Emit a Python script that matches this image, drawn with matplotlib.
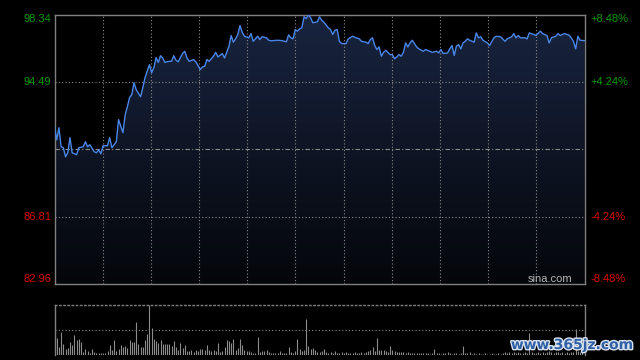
import numpy as np
import matplotlib
matplotlib.use("Agg")
import matplotlib.pyplot as plt
import matplotlib.patheffects as pe
from matplotlib.colors import LinearSegmentedColormap

plt.rcParams['font.family'] = ['Liberation Sans', 'DejaVu Sans']

# price scale (prev close in the middle)
prev_close = 90.65
y_top, y_bottom = 98.34, 82.96
left_vals = [98.34, 94.49, 86.81, 82.96]
left_labels = ['98.34', '94.49', '86.81', '82.96']
right_labels = ['+8.48%', '+4.24%', '-4.24%', '-8.48%']

# intraday price, minute index from the open (0..240)
minute = [0, 1, 2, 3, 4, 5, 6, 7, 8, 10, 11, 13, 14, 15, 16, 18, 19, 20, 21, 22,
          23, 24, 25, 26, 27, 28, 29, 31, 32, 33, 34, 35, 36, 37, 39, 40, 41, 43, 44, 45,
          46, 47, 48, 49, 50, 52, 53, 54, 55, 56, 58, 59, 60, 61, 63, 64, 66, 67, 68, 69,
          70, 72, 73, 74, 76, 77, 79, 80, 81, 82, 83, 84, 85, 86, 88, 89, 90, 92, 93, 94,
          96, 97, 98, 101, 103, 105, 106, 107, 108, 109, 110, 111, 112, 113, 114, 115, 116, 117, 119, 120,
          121, 122, 124, 125, 126, 127, 128, 129, 130, 132, 133, 135, 136, 138, 139, 141, 142, 143, 144, 145,
          146, 147, 148, 149, 150, 152, 153, 154, 155, 156, 157, 158, 159, 160, 161, 162, 164, 165, 167, 168,
          170, 171, 173, 174, 175, 176, 178, 179, 180, 181, 182, 183, 184, 185, 186, 187, 188, 190, 191, 192,
          193, 194, 196, 197, 199, 200, 202, 204, 205, 207, 208, 209, 210, 211, 213, 214, 215, 217, 218, 220,
          221, 223, 224, 225, 227, 228, 229, 230, 231, 233, 234, 235, 236, 237, 238, 240]
price = [91.95, 91.19, 91.88, 90.79, 90.74, 90.22, 90.45, 91.31, 90.45, 90.34, 90.74, 90.79, 91.08, 90.79, 90.91, 90.51, 90.45, 90.62, 90.39, 90.85,
         90.85, 90.85, 91.31, 90.74, 90.91, 91.08, 92.34, 91.60, 92.62, 93.08, 93.60, 93.77, 94.45, 94.05, 93.65, 94.17, 94.74, 95.48, 95.02, 95.31,
         95.88, 95.60, 95.99, 95.86, 95.61, 95.67, 95.67, 95.99, 95.73, 95.64, 96.11, 96.24, 95.86, 95.67, 95.77, 95.64, 95.20, 95.35, 95.38, 95.77,
         95.67, 95.96, 96.18, 95.92, 96.11, 95.86, 96.53, 97.14, 96.76, 96.95, 97.20, 97.71, 97.33, 97.10, 97.01, 97.25, 96.81, 97.10, 96.91, 97.07,
         97.01, 96.87, 96.84, 96.87, 96.85, 96.78, 97.18, 97.01, 96.95, 97.48, 97.39, 97.52, 97.58, 98.21, 98.11, 98.32, 98.15, 97.87, 97.92, 98.21,
         98.01, 97.90, 97.58, 97.48, 97.20, 97.44, 97.48, 96.81, 96.68, 96.68, 96.95, 97.10, 97.04, 96.95, 96.81, 96.76, 96.68, 96.91, 97.01, 96.57,
         96.34, 96.49, 95.96, 96.18, 96.30, 96.05, 96.05, 95.81, 95.92, 96.05, 95.96, 96.18, 96.72, 96.49, 96.72, 96.87, 96.49, 96.38, 96.24, 96.34,
         96.24, 96.18, 96.24, 96.15, 96.34, 96.11, 96.15, 96.38, 96.57, 96.00, 96.53, 96.62, 96.38, 96.72, 96.81, 96.95, 96.87, 96.76, 97.29, 97.01,
         97.07, 96.87, 96.72, 96.57, 97.01, 97.10, 97.07, 96.81, 96.95, 97.07, 97.25, 97.01, 97.14, 97.01, 97.01, 96.95, 97.29, 97.20, 97.14, 97.39,
         97.25, 97.14, 96.72, 97.01, 97.10, 97.25, 97.14, 97.20, 97.25, 97.16, 97.01, 96.81, 96.38, 97.10, 96.87, 96.85]

# volume per minute (hundreds of lots), minutes 0..240
volume = [24, 17, 8, 23, 11, 6, 7, 13, 10, 20, 15, 16, 13, 3, 6, 4, 2, 6, 3, 2,
          2, 2, 2, 2, 4, 10, 5, 15, 4, 6, 10, 8, 9, 7, 15, 13, 13, 33, 11, 8,
          8, 15, 21, 51, 27, 16, 14, 12, 15, 11, 11, 11, 11, 9, 14, 8, 5, 12, 7, 10,
          4, 4, 5, 3, 5, 4, 6, 6, 5, 10, 5, 4, 5, 4, 12, 3, 4, 8, 15, 14,
          12, 16, 5, 7, 16, 10, 5, 4, 4, 3, 2, 2, 18, 3, 4, 4, 5, 3, 2, 2,
          2, 2, 4, 2, 2, 2, 8, 3, 2, 4, 16, 6, 4, 5, 36, 9, 6, 7, 5, 3,
          3, 4, 6, 3, 2, 3, 2, 4, 2, 2, 3, 2, 3, 2, 2, 2, 3, 2, 2, 3,
          2, 3, 4, 5, 8, 4, 17, 5, 5, 5, 4, 3, 9, 5, 4, 3, 3, 3, 3, 2,
          3, 2, 2, 2, 2, 2, 2, 2, 2, 2, 1, 2, 6, 2, 2, 1, 2, 2, 3, 2,
          1, 2, 2, 1, 2, 9, 2, 2, 3, 1, 2, 1, 2, 1, 1, 2, 1, 1, 2, 1,
          1, 2, 1, 2, 3, 2, 3, 2, 3, 2, 3, 2, 2, 3, 2, 22, 3, 2, 2, 3,
          2, 3, 2, 3, 4, 3, 2, 3, 3, 2, 3, 2, 3, 2, 3, 3, 26, 4, 3, 3, 3]

grid_c = '#8a8a8a'
frame_c = '#808080'
up_c = '#0a9a0a'
down_c = '#dd0000'

fig = plt.figure(figsize=(6.4, 3.6), dpi=100, facecolor='black')
ax = fig.add_axes([54.5 / 640, 1 - 284 / 360, 530 / 640, 269.5 / 360], facecolor='black')
vax = fig.add_axes([54.5 / 640, 1 - 355 / 360, 530 / 640, 50.5 / 360], facecolor='black')

# price area with vertical gradient
cmap = LinearSegmentedColormap.from_list('fill', ['#04060a', '#18243f'])
poly = ax.fill_between(minute, price, y_bottom, color='none', lw=0)
grad = ax.imshow(np.linspace(1, 0, 256).reshape(-1, 1), extent=[0, 240, y_bottom, y_top],
                 aspect='auto', cmap=cmap, zorder=1, interpolation='bicubic')
grad.set_clip_path(poly.get_paths()[0], transform=ax.transData)
ax.plot(minute, price, color='#4a86e8', lw=1.0, zorder=4)

# grid
for i in range(1, 11):
    ax.axvline(240 * i / 11, color=grid_c, lw=0.8, ls=(0, (1, 2)), zorder=3)
for v in [94.49, 86.81]:
    ax.axhline(v, color=grid_c, lw=0.8, ls=(0, (1, 2)), zorder=3)
ax.axhline(prev_close, color=grid_c, lw=0.8, ls=(0, (4, 2, 1, 2)), zorder=3)

ax.set_xlim(0, 240)
ax.set_ylim(y_bottom, y_top)
ax.set_xticks([])
ax.set_yticks([])
for s in ax.spines.values():
    s.set_color(frame_c)
    s.set_linewidth(1)

# axis labels
tr = ax.get_yaxis_transform()
for i, (v, lab, rlab) in enumerate(zip(left_vals, left_labels, right_labels)):
    c = up_c if v > prev_close else down_c
    va = 'top' if i == 0 else ('bottom' if i == len(left_vals) - 1 else 'center')
    ax.text(-0.0066, v, lab, transform=tr, ha='right', va=va, color=c, fontsize=8)
    ax.text(1.0104, v, rlab, transform=tr, ha='left', va=va, color=c, fontsize=8)

ax.text(0.978, 0.0186, 'sina.com', transform=ax.transAxes, ha='right', va='center',
        color='#b4b4b4', fontsize=8)

# volume
vax.vlines(np.arange(len(volume)), 0, volume, colors='#8c8c8c', lw=0.8)
vax.axhline(max(volume) / 2, color=grid_c, lw=0.8, ls=(0, (1, 2)))
vax.set_xlim(0, 240)
vax.set_ylim(0, max(volume))
vax.set_xticks([])
vax.set_yticks([])
vax.spines['bottom'].set_visible(False)
vax.spines['top'].set_linestyle((0, (1, 2)))
for s in vax.spines.values():
    s.set_color(frame_c)
    s.set_linewidth(1)

# watermark
fig.text(633 / 640, 1 - 345 / 360, 'www.365jz.com', ha='right', va='center',
         color='#2f5fa5', fontsize=10, fontweight='bold', family='DejaVu Sans',
         path_effects=[pe.withStroke(linewidth=2, foreground='#d8e2ee')])

fig.savefig('out.png', dpi=100, facecolor='black')
